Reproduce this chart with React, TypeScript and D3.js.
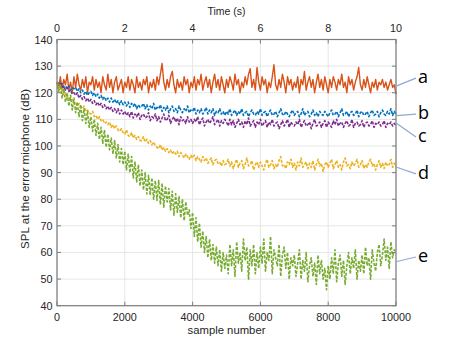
import React from "react";
import * as d3 from "d3";

const sampleStep = 50;
const xTicks = [0, 2000, 4000, 6000, 8000, 10000];
const timeTicks = [0, 2, 4, 6, 8, 10];
const yTicks = [40, 50, 60, 70, 80, 90, 100, 110, 120, 130, 140];

const seriesA = [
  124,122,126,121,125,123,127,121,124,120,126,122,127,123,121,125,122,126,120,124,
  123,126,121,125,122,124,120,126,123,121,127,122,125,120,124,126,121,123,125,120,
  124,122,126,121,125,123,120,126,122,124,121,125,123,126,120,124,122,125,121,126,
  123,127,131,124,121,125,122,126,128,123,120,125,122,124,121,126,123,125,120,124,
  122,126,121,125,123,127,121,124,126,122,125,120,124,127,122,125,121,126,123,120,
  125,122,126,124,121,127,123,125,120,124,122,126,123,127,129,122,125,121,129.5,124,
  121,126,123,125,120,124,122,126,130.5,123,121,125,122,127,124,120,126,123,125,121,
  124,122,126,120,125,123,128,121,124,126,122,125,120,124,127,122,125,121,126,123,
  120,125,122,126,124,121,125,123,127,122,124,120,126,123,125,121,124,126,129.5,123,
  121,125,122,126,123,120,124,122,125,121,124,123,125,122,124,121,123,125,122,123,
  119.5,
];

const seriesB = [
  124,123.5,123,123.5,122,122.5,121.5,122.5,121,122,121.5,122,120.5,121.5,120,121,119.5,120.5,119,120,
  120.5,119,120,118.5,119.5,118,119,117.5,118.5,117,118,116.5,118,116.5,117.5,116,117,115.5,117,115.5,
  116.5,115,116.5,114.5,116,115,116,114,115.5,114.5,115,116,114,115.5,113.5,115,114,116,113.5,114.5,
  114,115.5,113,114.5,113.5,115,112.5,114,115,113,114,112.5,115,113.5,112.5,114,113,115,112.5,113.5,
  113,114.5,112,113.5,112.5,114,112,113,114.5,112,113.5,112.5,114,111.5,113,112.5,114,112,113,111.5,
  113,112,114,111.5,112.5,113.5,111.5,113,112,114,111.5,112.5,113,111,112.5,113.5,112,111.5,113,112,
  114,111.5,112.5,113,111,112.5,113.5,111.5,112,113,111,112.5,114,112,111.5,113,112,111,112.5,113.5,
  111.5,112.5,113,111,112,114,111.5,112.5,113,111,112,113.5,111.5,112.5,111,113,112,111.5,113,112,
  111,112.5,113.5,111.5,112,113,111,112.5,114,111.5,112,113,111,112.5,113,111.5,112,113.5,111,112.5,
  113,111.5,112,113,111,112.5,113.5,111.5,112,113,111,112.5,113.5,112,111.5,113,112,114,111.5,113,
  112,
];

const seriesC = [
  124,123,123.5,122,122.5,121,122,120.5,121,119.5,120,119,120,118,119,117.5,118.5,117,118,116.5,
  117.5,116,117,115.5,116.5,115,116,114.5,115.5,114,115,113.5,114.5,113,114,112.5,114,112,113.5,112,
  113,111.5,112.5,111,113,110.5,112,111,112.5,110,111.5,112,110.5,111,112.5,109.5,111,110.5,112,109.5,
  111,109,110.5,112,109.5,110,111.5,108.5,110,111,109,110.5,108,111,109.5,110,108.5,111,109,110,
  108.5,110,109,111,108,109.5,110.5,107.5,109,110,108.5,109.5,111,108,109,110,107.5,109.5,108.5,110,
  109,107.5,110,108,109.5,107,108.5,110,108,109,107,109.5,108,110.5,107.5,108.5,109.5,107,109,108,
  110,107.5,108.5,109.5,107,109,108,110,107.5,108.5,109,106.5,108,109.5,107.5,108.5,110,107,109,108,
  107.5,109,108,110,107,108.5,109.5,107.5,108,109,106.5,108.5,110,107.5,108,109,107,108.5,109.5,107,
  109,108,107,109.5,108,110,107.5,108.5,109,107,108.5,109.5,107.5,108,110,107,108.5,109,107.5,108,
  109.5,107,108.5,109,107.5,108,109.5,107,108.5,108,109,107.5,108,109.5,107,108.5,108,109,107.5,108.5,
  107.5,
];

const seriesD = [
  124,122.5,121,121.5,119.5,120,118,118.5,117,117.5,116,116.5,115,116,114.5,114,115,113,113.5,112.5,
  112,113,111,111.5,110,111,109.5,110,108.5,109,108,109,107,108,106.5,107.5,106,105.5,106.5,105,
  104.5,106,104,103.5,105,103,104,102.5,103.5,102,102,103.5,101.5,102.5,101,102,100.5,101.5,100,99.5,
  99,100.5,98.5,99.5,98,99,97.5,98.5,97,98,97,98,96,97.5,96.5,95.5,97,96,95,96.5,
  95.5,96.5,94.5,96,95,94,96,94.5,95.5,93.5,94.5,95.5,93,94.5,95,93.5,94,92.5,94.5,93,
  93.5,95,92.5,94,91.5,93.5,95,92,93.5,94.5,91.5,93,95.5,92.5,93,94.5,91,93,94,92,
  94,92.5,91,93.5,95,92,93,94.5,91.5,93,92,94.5,96,92.5,93,91.5,94,93,95,92,
  93.5,91,94,92.5,95.5,92,93,94,91.5,93.5,92,94.5,91,93,95,92.5,93.5,90.5,93,94,
  92,93.5,95,91.5,93,94.5,92,93,91,94,95.5,92.5,93,91.5,94,92.5,93.5,95,92,93,
  94.5,91.5,93,92,94,95,92.5,93.5,91,93,94.5,92,93.5,91.5,94,92.5,93,95,92,93.5,
  92,
];

const seriesE = [
  124,120.5,123,118,121.5,116.5,120,115,119,113.5,118,112.5,116.5,111,115.5,109.5,114,108.5,113,107,
  111,105.5,110,104,108.5,102.5,107,101,106,99.5,104.5,98.5,103,97,102,95.5,100.5,94,99,93,
  98,91,97,90,96,88,94,86.5,93,85,91,83.5,90,82,89,81.5,88,80,87,79.5,
  87,78,86,77,85,79,84,76,83,74,82,75,81,73,80,72,79,74,76,69,
  75,66,73,64,71,62,68,60,66,58,65,57,63,56,62,55,61,53,60,54,
  59,52,63,55,61,51,64,56,60,53,65,57,62,50,61,55,63,52,60,54,
  62,56,65,53,60,57,66,52,61,58,55,63,51,59,62,54,60,50,58,55,
  59,51,56,61,50,57,53,60,49,55,58,51,56,48,59,52,57,50,54,46,
  55,50,58,52,61,49,56,59,51,57,48,55,60,52,58,54,61,50,57,53,
  59,52,62,55,58,50,61,56,53,60,63,55,59,65,57,62,54,64,58,61,
  60,
];

const seriesList = [
  { name: "a", values: seriesA, color: "#D95319", dash: null },
  { name: "b", values: seriesB, color: "#0072BD", dash: "3,1.5" },
  { name: "c", values: seriesC, color: "#7E2F8E", dash: "3,1.5" },
  { name: "d", values: seriesD, color: "#EDB120", dash: "3,1.5" },
  { name: "e", values: seriesE, color: "#77AC30", dash: "3,1.5" },
];

// annotation: line start value at the right edge, label value
const labelNames = ["a", "b", "c", "d", "e"];
const labelStart = [122.5, 111.4, 108.6, 92.1, 56.5];
const labelEnd = [125.5, 112, 103.4, 89.5, 58.3];

export default function App() {
  const W = 471, H = 342;
  const x0 = 57, x1 = 396, yTop = 39.5, yBot = 305.7;
  const x = d3.scaleLinear().domain([0, 10000]).range([x0, x1]);
  const t = d3.scaleLinear().domain([0, 10]).range([x0, x1]);
  const y = d3.scaleLinear().domain([40, 140]).range([yBot, yTop]);
  const line = d3
    .line<number>()
    .x((_, i) => x(i * sampleStep))
    .y((v) => y(v));
  const axisColor = "#7d7d7d";
  const textColor = "#262626";
  const font = "'Liberation Sans', Arial, sans-serif";
  const tl = 4;
  return (
    <svg
      width={W}
      height={H}
      style={{ position: "absolute", left: 0, top: 0, background: "#fff" }}
      fontFamily={font}
    >
      <rect x={0} y={0} width={W} height={H} fill="#fff" />
      {xTicks.map((v) => (
        <line key={"gx" + v} x1={x(v)} x2={x(v)} y1={yTop} y2={yBot} stroke="#e6e6e6" strokeWidth={1} />
      ))}
      {yTicks.map((v) => (
        <line key={"gy" + v} x1={x0} x2={x1} y1={y(v)} y2={y(v)} stroke="#e6e6e6" strokeWidth={1} />
      ))}
      <g>
        {seriesList.map((s) => (
          <path
            key={s.name}
            d={line(s.values) || ""}
            fill="none"
            stroke={s.color}
            strokeWidth={s.dash ? 1.6 : 1.4}
            strokeDasharray={s.dash || undefined}
            strokeLinejoin="round"
          />
        ))}
      </g>
      <rect x={x0} y={yTop} width={x1 - x0} height={yBot - yTop} fill="none" stroke={axisColor} strokeWidth={1.2} />
      {xTicks.map((v) => (
        <g key={"tx" + v}>
          <line x1={x(v)} x2={x(v)} y1={yBot} y2={yBot - tl} stroke={axisColor} />
          <text x={x(v)} y={320.5} textAnchor="middle" fontSize={10.8} fill={textColor}>
            {v}
          </text>
        </g>
      ))}
      {timeTicks.map((v) => (
        <g key={"tt" + v}>
          <line x1={t(v)} x2={t(v)} y1={yTop} y2={yTop + tl} stroke={axisColor} />
          <text x={t(v)} y={31.5} textAnchor="middle" fontSize={10.8} fill={textColor}>
            {v}
          </text>
        </g>
      ))}
      {yTicks.map((v) => (
        <g key={"ty" + v}>
          <line x1={x0} x2={x0 + tl} y1={y(v)} y2={y(v)} stroke={axisColor} />
          <line x1={x1} x2={x1 - tl} y1={y(v)} y2={y(v)} stroke={axisColor} />
          <text x={52.5} y={y(v) + 4} textAnchor="end" fontSize={10.8} fill={textColor}>
            {v}
          </text>
        </g>
      ))}
      <text x={(x0 + x1) / 2} y={15} textAnchor="middle" fontSize={10.5} fill={textColor}>
        Time (s)
      </text>
      <text x={(x0 + x1) / 2} y={334} textAnchor="middle" fontSize={11.3} fill={textColor}>
        sample number
      </text>
      <text
        transform={`translate(29, 169) rotate(-90)`}
        textAnchor="middle"
        fontSize={11.6}
        fill={textColor}
      >
        SPL at the error micphone (dB)
      </text>
      {labelNames.map((n, i) => (
        <g key={"lab" + n}>
          <line
            x1={x(10000)}
            y1={y(labelStart[i])}
            x2={x(10000) + 20}
            y2={y(labelEnd[i])}
            stroke="#8eaad2"
            strokeWidth={1.2}
          />
          <text
            x={x(10000) + 22}
            y={y(labelEnd[i]) + 5}
            fontSize={18}
            fill="#000"
            fontFamily="'Open Sans', 'Liberation Sans', sans-serif"
          >
            {n}
          </text>
        </g>
      ))}
    </svg>
  );
}
